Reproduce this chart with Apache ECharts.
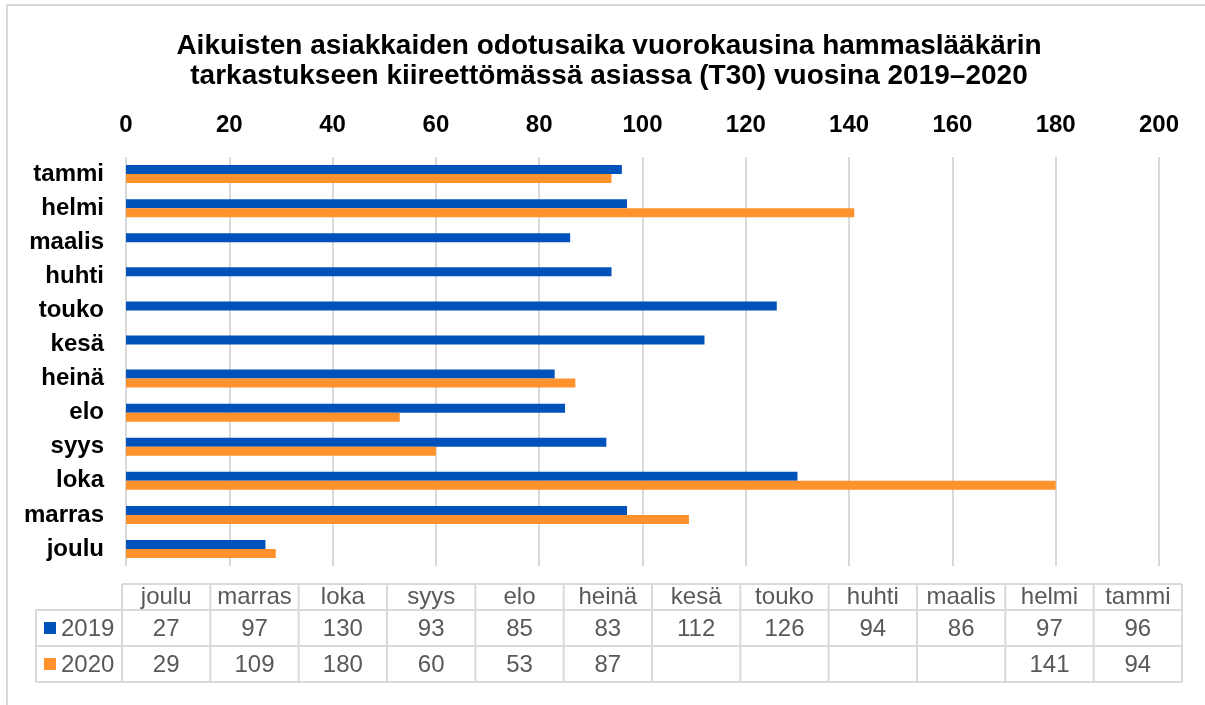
<!DOCTYPE html>
<html>
<head>
<meta charset="utf-8">
<script src="https://cdn.jsdelivr.net/npm/echarts@6/dist/echarts.min.js"></script>
<style>
  html, body { margin: 0; padding: 0; background: #fff; }
  #chart { width: 1205px; height: 705px; }
</style>
</head>
<body>
<div id="chart"></div>
<script>
// kuukaudet ylhäältä alas
var months = ['tammi', 'helmi', 'maalis', 'huhti', 'touko', 'kesä', 'heinä', 'elo', 'syys', 'loka', 'marras', 'joulu'];
var years = ['2019', '2020'];
var values2019 = [96, 97, 86, 94, 126, 112, 83, 85, 93, 130, 97, 27];
var values2020 = [94, 141, null, null, null, null, 87, 53, 60, 180, 109, 29];
var xTicks = [0, 20, 40, 60, 80, 100, 120, 140, 160, 180, 200];

var blue = '#0052BB';
var orange = '#FF922D';
var font = '"Liberation Sans", Arial, sans-serif';
var gray = '#595959';
var lineCol = '#d9d9d9';

// taulukko alareunassa (järjestys joulu -> tammi)
var tableLeft = 122, colW = 88.33;
var rowTops = [584, 610, 646, 682];
var legLeft = 36;

function buildTable() {
  var els = [];
  var cols = months.slice().reverse();
  var rows = [values2019.slice().reverse(), values2020.slice().reverse()];
  var right = tableLeft + colW * cols.length;
  var txt = function (s, x, y, align) {
    return {type: 'text', x: x, y: y, style: {text: s, fill: gray, font: '24px ' + font, textAlign: align, textVerticalAlign: 'middle', align: align, verticalAlign: 'middle'}};
  };
  // vaakaviivat
  els.push({type: 'line', shape: {x1: tableLeft, y1: rowTops[0], x2: right, y2: rowTops[0]}, style: {stroke: lineCol, lineWidth: 2}});
  for (var r = 1; r < rowTops.length; r++) {
    els.push({type: 'line', shape: {x1: legLeft, y1: rowTops[r], x2: right, y2: rowTops[r]}, style: {stroke: lineCol, lineWidth: 2}});
  }
  // pystyviivat
  els.push({type: 'line', shape: {x1: legLeft, y1: rowTops[1], x2: legLeft, y2: rowTops[3]}, style: {stroke: lineCol, lineWidth: 2}});
  for (var c = 0; c <= cols.length; c++) {
    var x = tableLeft + c * colW;
    els.push({type: 'line', shape: {x1: x, y1: rowTops[0], x2: x, y2: rowTops[3]}, style: {stroke: lineCol, lineWidth: 2}});
  }
  // otsikot ja arvot
  for (var i = 0; i < cols.length; i++) {
    var cx = tableLeft + i * colW + colW / 2;
    els.push(txt(cols[i], cx, 597, 'center'));
    for (var k = 0; k < rows.length; k++) {
      var v = rows[k][i];
      if (v == null) continue;
      els.push(txt(String(v), cx, (rowTops[k + 1] + rowTops[k + 2]) / 2 + 1, 'center'));
    }
  }
  // selite
  var legColors = [blue, orange];
  for (var k = 0; k < years.length; k++) {
    var cy = (rowTops[k + 1] + rowTops[k + 2]) / 2;
    els.push({type: 'rect', shape: {x: 44, y: cy - 6, width: 12, height: 12}, style: {fill: legColors[k]}});
    els.push(txt(years[k], 61, cy + 1, 'left'));
  }
  return els;
}

var myChart = echarts.init(document.getElementById('chart'));
myChart.setOption({
  backgroundColor: '#fff',
  animation: false,
  title: {
    text: 'Aikuisten asiakkaiden odotusaika vuorokausina hammaslääkärin\ntarkastukseen kiireettömässä asiassa (T30) vuosina 2019–2020',
    left: 604,
    textAlign: 'center',
    top: 26,
    textStyle: {
      fontFamily: font,
      fontSize: 28,
      fontWeight: 'bold',
      color: '#000',
      lineHeight: 30
    }
  },
  grid: {
    left: 126,
    right: 46,
    top: 157,
    bottom: 139,
    containLabel: false
  },
  xAxis: {
    type: 'value',
    position: 'top',
    min: xTicks[0],
    max: xTicks[xTicks.length - 1],
    interval: xTicks[1] - xTicks[0],
    axisLine: {show: false},
    axisTick: {show: false},
    axisLabel: {
      margin: 20,
      color: '#000',
      fontFamily: font,
      fontSize: 24,
      fontWeight: 'bold'
    },
    splitLine: {lineStyle: {color: lineCol, width: 2}}
  },
  yAxis: {
    type: 'category',
    inverse: true,
    data: months,
    axisLine: {show: false},
    axisTick: {show: false},
    axisLabel: {
      margin: 22,
      color: '#000',
      fontFamily: font,
      fontSize: 24,
      fontWeight: 'bold'
    }
  },
  series: [
    {
      name: years[0],
      type: 'bar',
      data: values2019,
      barWidth: 9,
      barGap: '0%',
      itemStyle: {color: blue}
    },
    {
      name: years[1],
      type: 'bar',
      data: values2020,
      barWidth: 9,
      barGap: '0%',
      itemStyle: {color: orange}
    }
  ],
  graphic: [
    {type: 'rect', shape: {x: 7, y: 5, width: 1300, height: 800}, style: {fill: 'none', stroke: lineCol, lineWidth: 2}, z: -1}
  ].concat(buildTable())
});
</script>
</body>
</html>
